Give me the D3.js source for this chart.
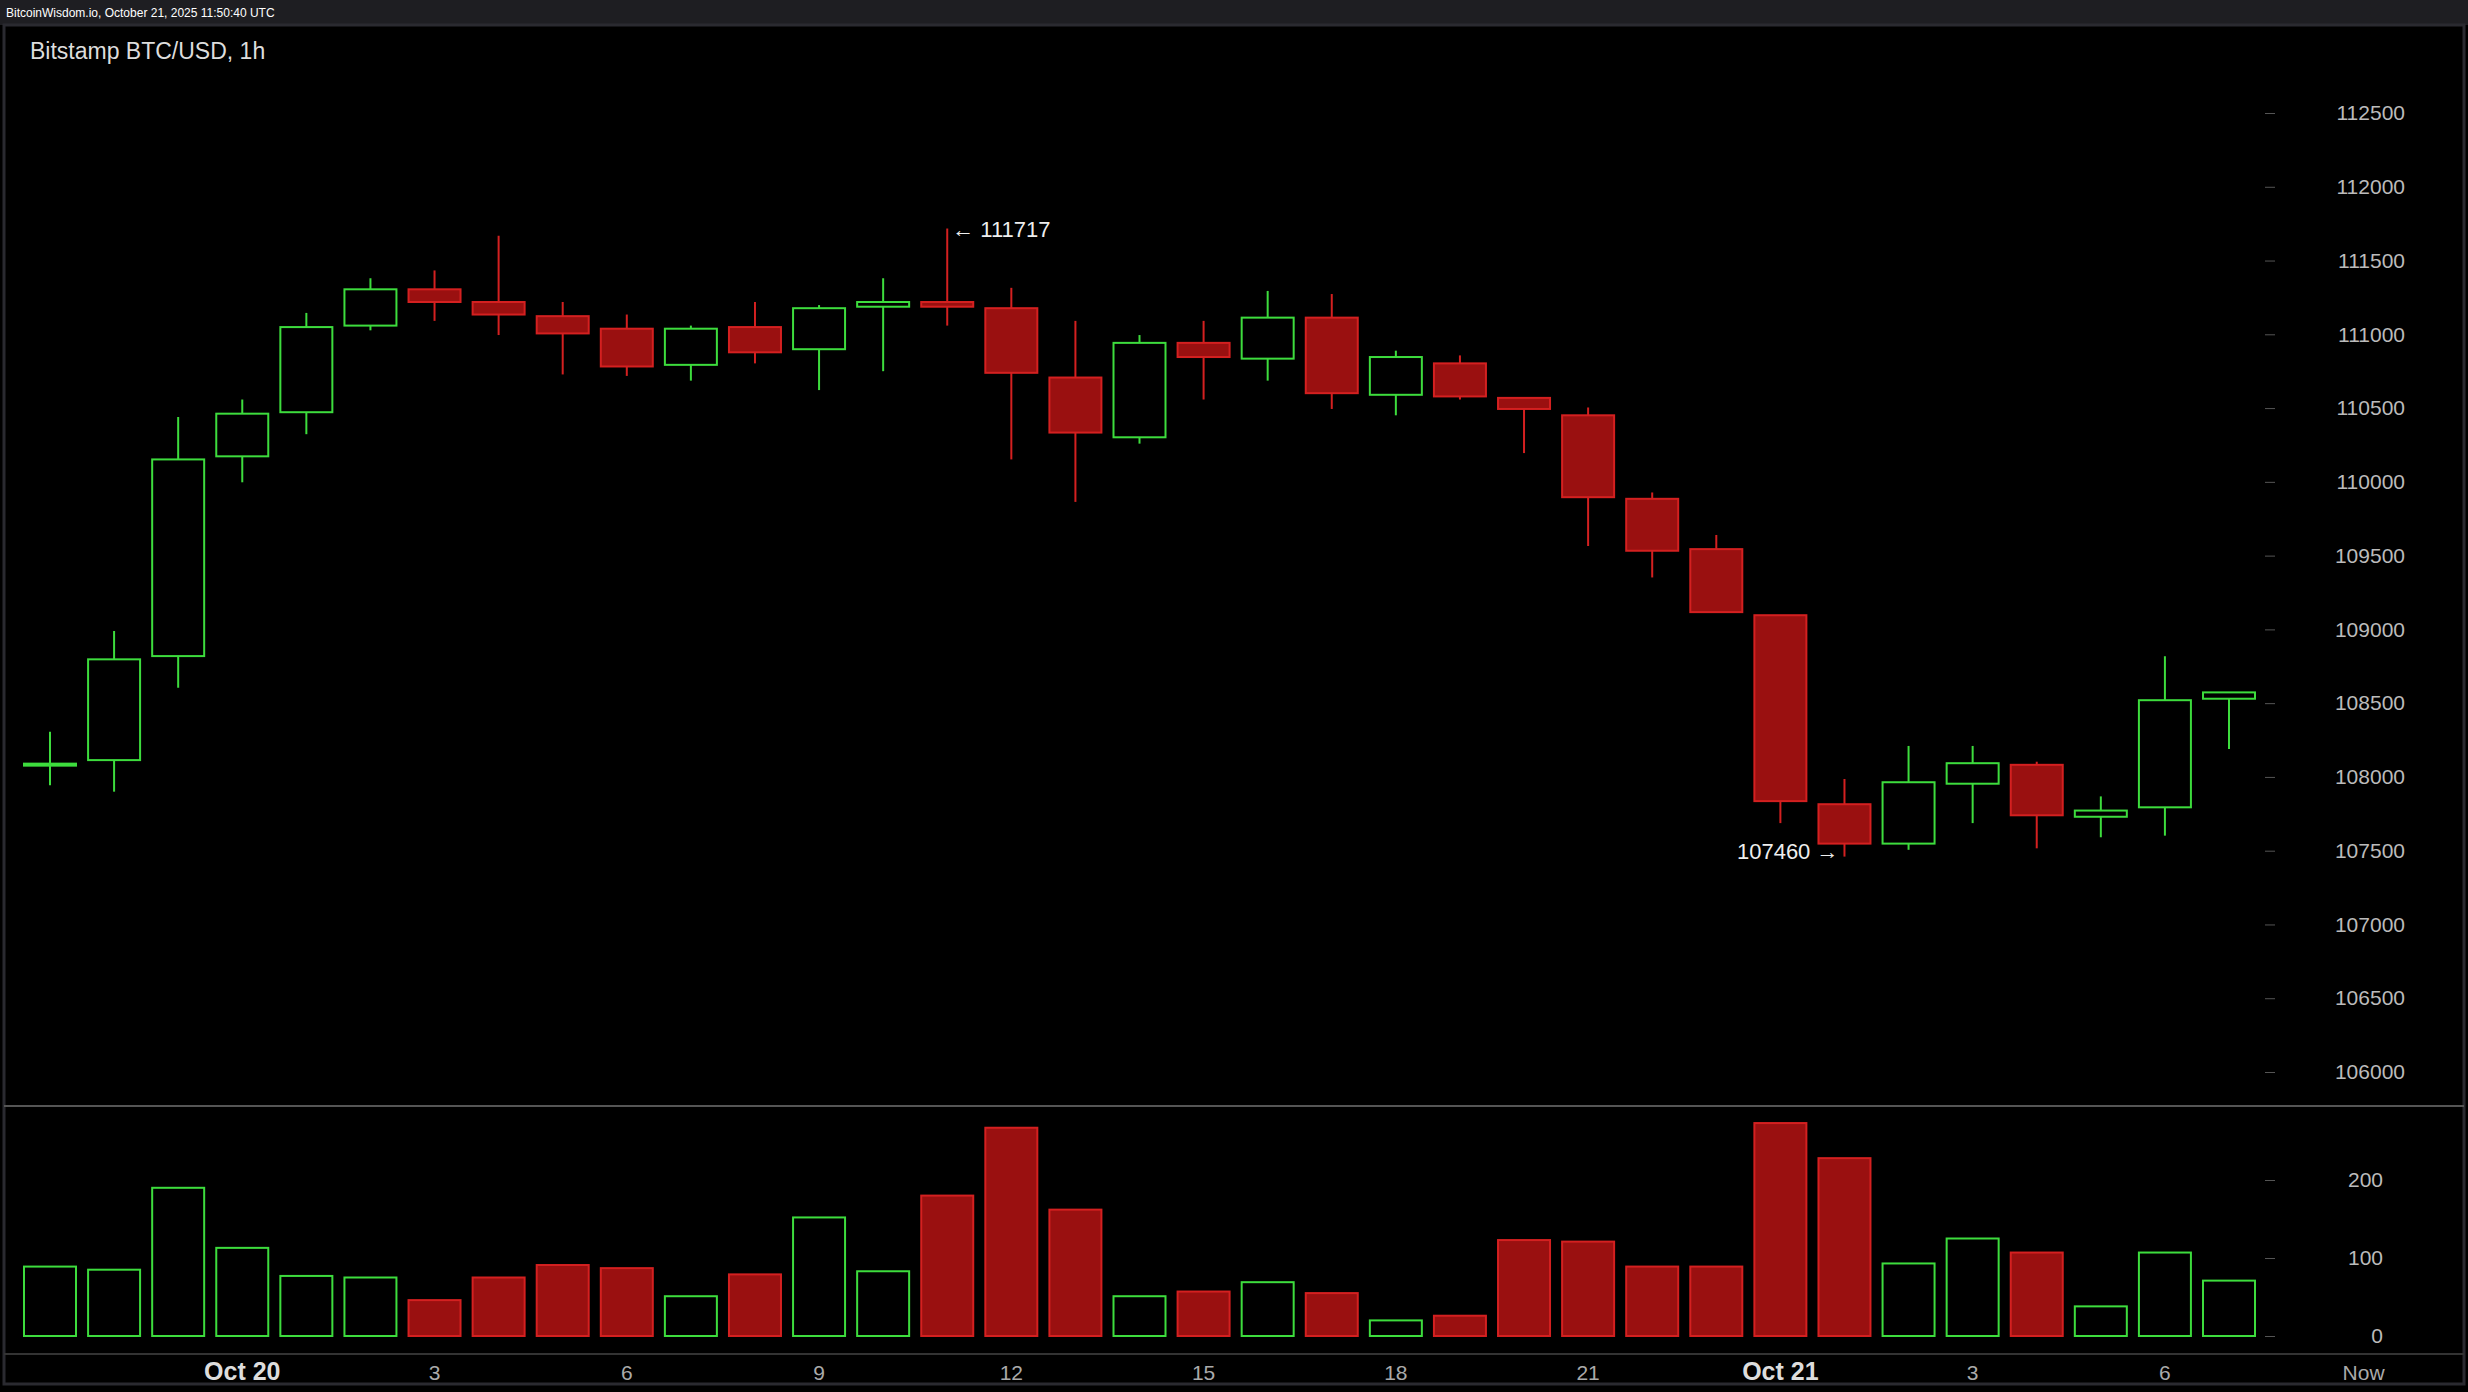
<!DOCTYPE html>
<html><head><meta charset="utf-8">
<script src="https://cdn.jsdelivr.net/npm/d3@7"></script>
<style>
body{margin:0;background:#000;overflow:hidden}
text{font-family:"Liberation Sans",Arial,sans-serif}
</style></head>
<body>
<svg id="chart" width="2468" height="1392"></svg>
<script>
// hourly candles, Oct 20 00:00 -> Oct 21 11:00 (index 0 = Oct 19 21:00)
var opens  = [108080,108114,108819,110173,110472,111059,111305,111219,111123,111038,110793,111049,110899,111187,111219,111177,110707,110302,110942,110835,111113,110590,110803,110569,110451,109885,109544,109096,107815,107548,107954,108082,107730,107794,108530];
var closes = [108090,108797,110152,110462,111049,111305,111219,111134,111006,110782,111038,110878,111177,111219,111187,110739,110334,110942,110846,111113,110601,110846,110579,110494,109896,109533,109117,107836,107548,107964,108093,107740,107772,108520,108573];
var highs  = [108306,108989,110440,110558,111145,111380,111433,111668,111219,111134,111059,111219,111198,111380,111717,111315,111091,110995,111091,111294,111273,110889,110857,110569,110504,109928,109640,109096,107986,108210,108210,108103,107868,108818,108573];
var lows   = [107943,107900,108605,109997,110323,111027,111091,110995,110728,110718,110686,110803,110622,110750,111059,110152,109864,110259,110558,110686,110494,110451,110558,110195,109565,109352,109117,107687,107460,107506,107687,107516,107591,107602,108189];
var volumes= [89,85,190,113,77,75,46,75,91,87,51,79,152,83,180,267,162,51,57,69,55,20,26,123,121,89,89,273,228,93,125,107,38,107,71];

var priceTicks = [106000,106500,107000,107500,108000,108500,109000,109500,110000,110500,111000,111500,112000,112500];
var volTicks = [0,100,200];
var timeLabels = ["Oct 20","3","6","9","12","15","18","21","Oct 21","3","6","Now"];
var timeIdx    = [3,6,9,12,15,18,21,24,27,30,33,36.1];

var svg = d3.select("#chart");
var W = 2468, H = 1392;
svg.append("rect").attr("width",W).attr("height",H).attr("fill","#000");
svg.append("rect").attr("x",0).attr("y",0).attr("width",W).attr("height",25).attr("fill","#1e1e22");
svg.append("text").attr("x",6).attr("y",17).attr("fill","#fff").attr("font-size",12)
  .text("BitcoinWisdom.io, October 21, 2025 11:50:40 UTC");
svg.append("rect").attr("x",4).attr("y",25).attr("width",W-8).attr("height",H-33)
  .attr("fill","#000").attr("stroke","#2a2a30").attr("stroke-width",3);
svg.append("text").attr("x",30).attr("y",59).attr("fill","#ddd").attr("font-size",23)
  .text("Bitstamp BTC/USD, 1h");

var x = d3.scaleLinear().domain([0,34]).range([50,2229]);
var y = d3.scaleLinear().domain([106000,112500]).range([1072,113]);
var yv = d3.scaleLinear().domain([0,200]).range([1336,1180]);
var bw = 52;
var green = "#3ddc3d", redF = "#9a1010", redS = "#d42020";

// price axis
var pa = svg.append("g").attr("transform","translate(2278,0)")
  .call(d3.axisRight(y).tickValues(priceTicks).tickSize(10).tickPadding(45).tickFormat(d3.format("d")));
pa.select(".domain").remove();
pa.selectAll("line").attr("stroke","#555").attr("x1",-13).attr("x2",-3);
pa.selectAll("text").attr("fill","#bbb").attr("font-size",21).attr("font-family","DejaVu Sans Mono, monospace")
  .attr("text-anchor","end").attr("dx",72);

var va = svg.append("g").attr("transform","translate(2278,0)")
  .call(d3.axisRight(yv).tickValues(volTicks).tickSize(10).tickPadding(45));
va.select(".domain").remove();
va.selectAll("line").attr("stroke","#555").attr("x1",-13).attr("x2",-3);
va.selectAll("text").attr("fill","#bbb").attr("font-size",21).attr("font-family","DejaVu Sans Mono, monospace")
  .attr("text-anchor","end").attr("dx",50);

// separators
svg.append("line").attr("x1",4).attr("x2",W-4).attr("y1",1106).attr("y2",1106).attr("stroke","#555").attr("stroke-width",2);
svg.append("line").attr("x1",4).attr("x2",W-4).attr("y1",1354).attr("y2",1354).attr("stroke","#333").attr("stroke-width",2);

// time labels
svg.selectAll(".tl").data(timeLabels).enter().append("text")
  .attr("x",function(d,i){return x(timeIdx[i]);}).attr("y",1380)
  .attr("text-anchor","middle").attr("font-size",function(d){return d.length>3?25:21;})
  .attr("font-weight",function(d){return d.indexOf("Oct")==0?"bold":"normal";})
  .attr("fill",function(d){return d.indexOf("Oct")==0?"#ddd":"#aaa";})
  .text(function(d){return d;});

// candles
var idx = d3.range(opens.length);
var up = function(i){return closes[i]>=opens[i];};
svg.selectAll(".wick").data(idx).enter().append("line")
  .attr("x1",function(i){return x(i);}).attr("x2",function(i){return x(i);})
  .attr("y1",function(i){return y(highs[i]);}).attr("y2",function(i){return y(lows[i]);})
  .attr("stroke",function(i){return up(i)?green:redS;}).attr("stroke-width",2);
svg.selectAll(".body").data(idx).enter().append("rect")
  .attr("x",function(i){return x(i)-bw/2;})
  .attr("y",function(i){return y(Math.max(opens[i],closes[i]));})
  .attr("width",bw)
  .attr("height",function(i){return Math.max(2,Math.abs(y(opens[i])-y(closes[i])));})
  .attr("fill",function(i){return up(i)?"#000":redF;})
  .attr("stroke",function(i){return up(i)?green:redS;}).attr("stroke-width",2);

// volume
svg.selectAll(".vol").data(idx).enter().append("rect")
  .attr("x",function(i){return x(i)-bw/2;})
  .attr("y",function(i){return yv(volumes[i]);})
  .attr("width",bw)
  .attr("height",function(i){return yv(0)-yv(volumes[i]);})
  .attr("fill",function(i){return up(i)?"#000":redF;})
  .attr("stroke",function(i){return up(i)?green:redS;}).attr("stroke-width",2);

// high / low annotations
var hi = d3.maxIndex(highs), lo = d3.minIndex(lows);
svg.append("text").attr("x",x(hi)+5).attr("y",y(highs[hi])+8).attr("fill","#eee").attr("font-size",22)
  .attr("font-family","DejaVu Sans Mono, monospace").text("\u2190 " + highs[hi]);
svg.append("text").attr("x",x(lo)-6).attr("y",y(lows[lo])+2).attr("fill","#eee").attr("font-size",22)
  .attr("font-family","DejaVu Sans Mono, monospace").attr("text-anchor","end").text(lows[lo] + " \u2192");
</script>
</body></html>
